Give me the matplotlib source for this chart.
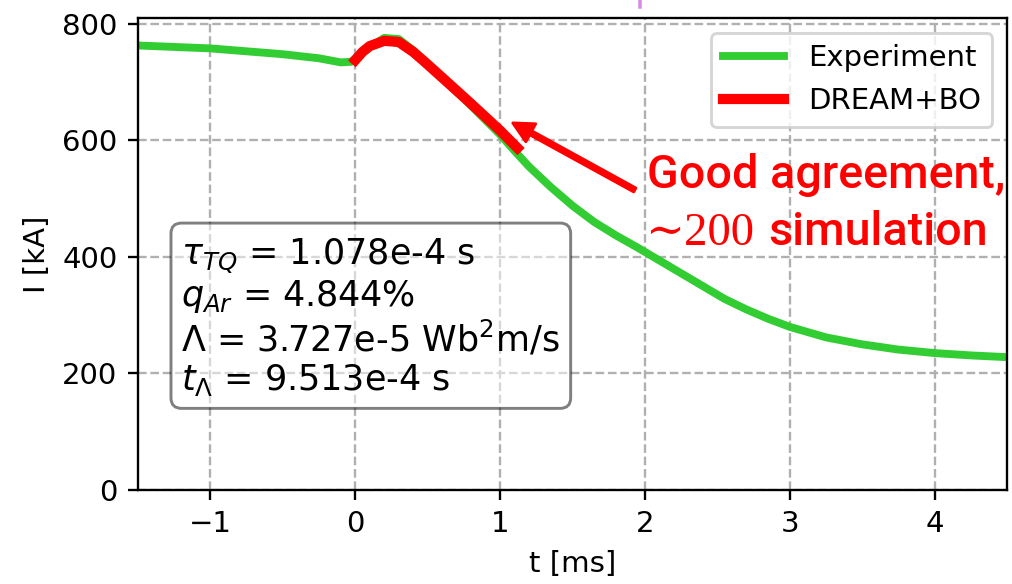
import numpy as np
import matplotlib
matplotlib.use('Agg')
import matplotlib.pyplot as plt
from matplotlib.lines import Line2D

# experiment current (t in ms, I in kA)
t_exp = [-1.5, -1.0, -0.5, -0.25, -0.1, -0.03, 0.0, 0.1, 0.2, 0.3, 0.4, 0.5,
         0.75, 1.0, 1.1, 1.2, 1.35, 1.5, 1.65, 1.8, 1.95, 2.1, 2.25, 2.4, 2.55,
         2.7, 2.85, 3.0, 3.25, 3.5, 3.75, 4.0, 4.25, 4.5]
I_exp = [763, 758, 748, 741, 734, 735, 740, 760, 776, 774, 755, 730,
         672, 610, 582, 555, 520, 488, 460, 437, 416, 394, 372, 350, 328,
         310, 294, 280, 262, 250, 241, 235, 231, 228]

# DREAM + Bayesian optimisation fit
t_sim = [0.0, 0.05, 0.1, 0.2, 0.3, 0.4, 0.47, 0.6, 0.8, 1.0, 1.12]
I_sim = [738, 752, 762, 771, 769, 752, 737, 708, 663, 617, 587]

params = (r'$\tau_{TQ}$ = 1.078e-4 s' + '\n'
          r'$q_{Ar}$ = 4.844%' + '\n'
          r'$\Lambda$ = 3.727e-5 Wb$^2$m/s' + '\n'
          r'$t_{\Lambda}$ = 9.513e-4 s')

DPI = 210
fig = plt.figure(figsize=(1012 / DPI, 584 / DPI), dpi=DPI)
ax = fig.add_axes([0.1364, 0.161, 0.8586, 0.808])

ax.plot(t_exp, I_exp, color='limegreen', lw=2.7, label='Experiment')
ax.plot(t_sim, I_sim, color='red', lw=3.5, label='DREAM+BO')

ax.set_xlim(-1.5, 4.5)
ax.set_ylim(0, 810)
ax.set_xticks([-1, 0, 1, 2, 3, 4])
ax.set_yticks([0, 200, 400, 600, 800])
ax.set_xlabel('t [ms]')
ax.set_ylabel('I [kA]')
ax.grid(True, linestyle='--')
ax.legend(loc='upper right', handlelength=2.1)

ax.text(0.05, 0.537, params, transform=ax.transAxes, fontsize=12, va='top',
        linespacing=1.12,
        bbox=dict(boxstyle='round', facecolor='white', alpha=0.5))

# arrow + comment
ax.annotate('', xy=(1.088, 630), xytext=(1.93, 515),
            arrowprops=dict(facecolor='red', edgecolor='red', width=1.5,
                            headwidth=7, headlength=7, shrink=0))
fig.text(647 / 1012, 1 - 188 / 584, 'Good agreement,', color='red',
         fontsize=16, family='Roboto', fontweight='medium', va='baseline')
fig.text(645 / 1012, 1 - 245 / 584, '\u223c200', color='red',
         fontsize=16, family=['Liberation Serif', 'DejaVu Serif'],
         va='baseline')
fig.text(768 / 1012, 1 - 245 / 584, 'simulation', color='red',
         fontsize=16, family='Roboto', fontweight='medium', va='baseline')

# bit of something cut off at the top edge
fig.add_artist(Line2D([640 / 1012, 640 / 1012], [1.0, 1 - 7 / 584],
                      color='#d98ae6', lw=1.2))

fig.savefig('out.png', dpi=DPI)
